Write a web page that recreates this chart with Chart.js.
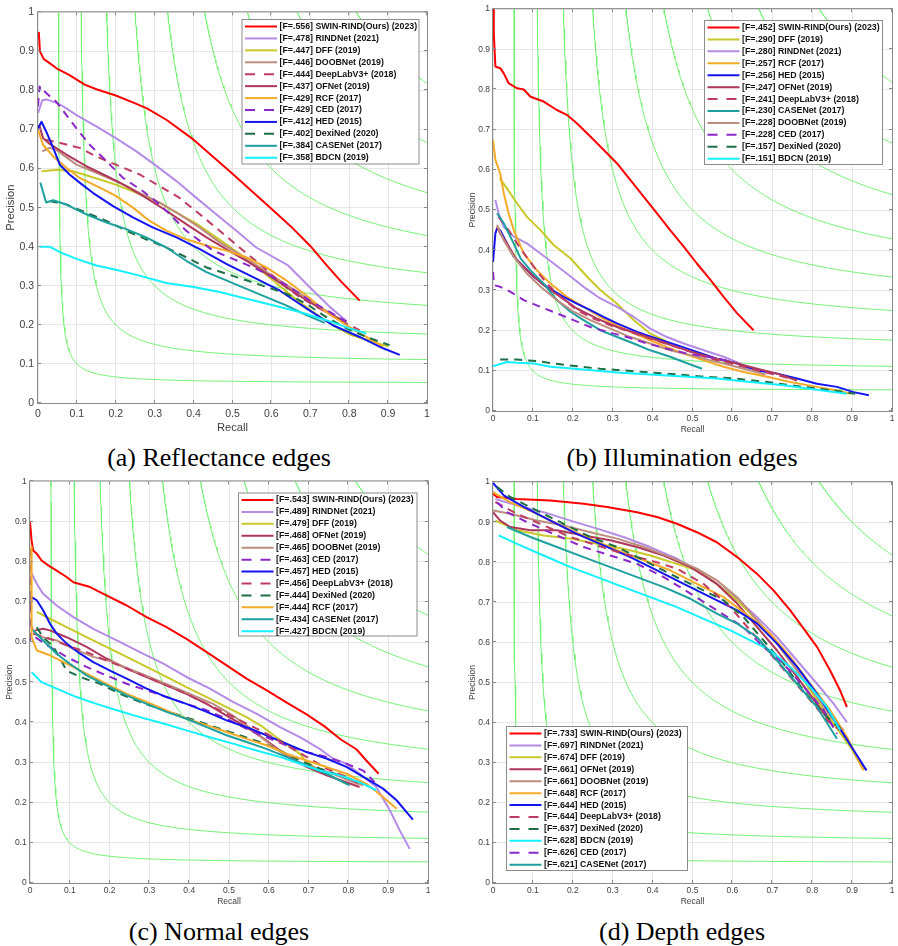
<!DOCTYPE html>
<html>
<head>
<meta charset="utf-8">
<script src="https://cdn.jsdelivr.net/npm/chart.js@4.4.1/dist/chart.umd.min.js"></script>
<style>
body { margin: 0; background: #fff; width: 898px; height: 946px; position: relative; overflow: hidden; }
.pane { position: absolute; }
.cap { position: absolute; width: 320px; text-align: center; white-space: nowrap;
       font-family: 'Liberation Serif', 'Times New Roman', serif; font-size: 26px; line-height: 30px; color: #000; }
</style>
</head>
<body>
<div class="pane" id="pa"><canvas id="ca"></canvas></div>
<div class="pane" id="pb"><canvas id="cb"></canvas></div>
<div class="pane" id="pc"><canvas id="cc"></canvas></div>
<div class="pane" id="pd"><canvas id="cd"></canvas></div>
<div class="cap" style="left:59px;top:443px">(a) Reflectance edges</div>
<div class="cap" style="left:522px;top:443px">(b) Illumination edges</div>
<div class="cap" style="left:59px;top:917px">(c) Normal edges</div>
<div class="cap" style="left:522px;top:917px">(d) Depth edges</div>
<script>
// iso-F contour levels (green background curves)
const isoF = [0.1, 0.2, 0.3, 0.4, 0.5, 0.6, 0.7, 0.8, 0.9];

// ---- (a) Reflectance : [recall, precision]
const refLegend = ['[F=.556] SWIN-RIND(Ours) (2023)', '[F=.478] RINDNet (2021)', '[F=.447] DFF (2019)', '[F=.446] DOOBNet (2019)',
  '[F=.444] DeepLabV3+ (2018)', '[F=.437] OFNet (2019)', '[F=.429] RCF (2017)', '[F=.429] CED (2017)',
  '[F=.412] HED (2015)', '[F=.402] DexiNed (2020)', '[F=.384] CASENet (2017)', '[F=.358] BDCN (2019)'];
const refKeys = ['swin', 'rind', 'dff', 'doob', 'deeplab', 'ofnet', 'rcf', 'ced', 'hed', 'dexi', 'casenet', 'bdcn'];
const refSwin = [[0.002,0.95],[0.005,0.9],[0.015,0.88],[0.03,0.87],[0.05,0.855],[0.08,0.84],[0.12,0.815],[0.15,0.803],[0.2,0.787],[0.25,0.767],[0.28,0.754],[0.33,0.725],[0.4,0.674],[0.45,0.63],[0.5,0.587],[0.55,0.542],[0.6,0.497],[0.65,0.452],[0.7,0.402],[0.74,0.355],[0.78,0.31],[0.827,0.262]];
const refRind = [[0.0,0.742],[0.011,0.775],[0.022,0.777],[0.051,0.767],[0.073,0.754],[0.099,0.737],[0.15,0.708],[0.2,0.678],[0.253,0.644],[0.3,0.61],[0.356,0.568],[0.407,0.525],[0.458,0.483],[0.51,0.441],[0.561,0.398],[0.643,0.352],[0.698,0.297],[0.75,0.246],[0.793,0.21]];
const refDff = [[0.009,0.593],[0.051,0.597],[0.09,0.593],[0.159,0.572],[0.2,0.559],[0.244,0.542],[0.304,0.517],[0.356,0.487],[0.407,0.459],[0.458,0.424],[0.501,0.394],[0.553,0.356],[0.604,0.314],[0.656,0.271],[0.707,0.233],[0.758,0.199],[0.8,0.176],[0.85,0.16],[0.9,0.145]];
const refDoob = [[0.011,0.644],[0.03,0.653],[0.047,0.648],[0.099,0.61],[0.159,0.585],[0.21,0.564],[0.261,0.538],[0.313,0.513],[0.364,0.483],[0.416,0.449],[0.467,0.411],[0.518,0.381],[0.57,0.347],[0.621,0.314],[0.673,0.28],[0.724,0.246],[0.767,0.22],[0.793,0.208]];
const refDeeplab = [[0.02,0.674],[0.06,0.665],[0.107,0.653],[0.15,0.631],[0.2,0.61],[0.261,0.585],[0.313,0.555],[0.364,0.525],[0.416,0.483],[0.467,0.441],[0.518,0.398],[0.57,0.356],[0.621,0.309],[0.673,0.271],[0.724,0.242],[0.776,0.212],[0.827,0.186]];
const refOfnet = [[0.003,0.712],[0.013,0.678],[0.03,0.663],[0.073,0.636],[0.124,0.606],[0.176,0.581],[0.227,0.555],[0.278,0.525],[0.33,0.492],[0.381,0.458],[0.433,0.424],[0.484,0.394],[0.536,0.364],[0.587,0.331],[0.638,0.297],[0.69,0.263],[0.741,0.233],[0.785,0.21]];
const refRcf = [[0.0,0.699],[0.013,0.661],[0.039,0.631],[0.073,0.602],[0.107,0.576],[0.159,0.551],[0.2,0.53],[0.244,0.5],[0.287,0.466],[0.33,0.441],[0.381,0.419],[0.433,0.403],[0.484,0.39],[0.536,0.373],[0.587,0.347],[0.638,0.314],[0.69,0.275],[0.741,0.233],[0.793,0.199],[0.844,0.169],[0.887,0.144]];
const refCed = [[0.0,0.76],[0.004,0.81],[0.01,0.795],[0.017,0.797],[0.047,0.771],[0.073,0.737],[0.099,0.703],[0.133,0.661],[0.176,0.619],[0.219,0.576],[0.27,0.542],[0.313,0.508],[0.347,0.475],[0.381,0.441],[0.416,0.415],[0.45,0.39],[0.501,0.369],[0.553,0.347],[0.604,0.322],[0.647,0.297],[0.698,0.263],[0.75,0.233],[0.793,0.208]];
const refHed = [[0.0,0.703],[0.009,0.72],[0.021,0.695],[0.039,0.653],[0.056,0.61],[0.081,0.585],[0.107,0.564],[0.141,0.538],[0.193,0.504],[0.244,0.475],[0.296,0.449],[0.356,0.424],[0.416,0.394],[0.484,0.356],[0.553,0.322],[0.621,0.288],[0.69,0.242],[0.758,0.199],[0.827,0.169],[0.887,0.14],[0.93,0.123]];
const refDexi = [[0.03,0.517],[0.073,0.508],[0.124,0.487],[0.176,0.466],[0.227,0.441],[0.278,0.419],[0.33,0.398],[0.381,0.373],[0.433,0.347],[0.484,0.331],[0.536,0.314],[0.587,0.297],[0.638,0.28],[0.69,0.254],[0.741,0.22],[0.793,0.191],[0.844,0.169],[0.904,0.148]];
const refCase = [[0.006,0.564],[0.021,0.513],[0.039,0.519],[0.073,0.508],[0.124,0.483],[0.176,0.462],[0.227,0.445],[0.278,0.424],[0.33,0.398],[0.381,0.364],[0.433,0.335],[0.484,0.314],[0.536,0.292],[0.587,0.271],[0.638,0.25],[0.69,0.225],[0.737,0.205]];
const refBdcn = [[0.004,0.4],[0.03,0.4],[0.056,0.386],[0.099,0.369],[0.15,0.352],[0.2,0.341],[0.261,0.326],[0.33,0.307],[0.4,0.297],[0.467,0.284],[0.536,0.267],[0.604,0.25],[0.673,0.233],[0.741,0.212],[0.801,0.191],[0.844,0.178]];

// ---- (b) Illumination
const illLegend = ['[F=.452] SWIN-RIND(Ours) (2023)', '[F=.290] DFF (2019)', '[F=.280] RINDNet (2021)', '[F=.257] RCF (2017)',
  '[F=.256] HED (2015)', '[F=.247] OFNet (2019)', '[F=.241] DeepLabV3+ (2018)', '[F=.230] CASENet (2017)',
  '[F=.228] DOOBNet (2019)', '[F=.228] CED (2017)', '[F=.157] DexiNed (2020)', '[F=.151] BDCN (2019)'];
const illKeys = ['swin', 'dff', 'rind', 'rcf', 'hed', 'ofnet', 'deeplab', 'casenet', 'doob', 'ced', 'dexi', 'bdcn'];
const illSwin = [[0.0,0.998],[0.002,0.94],[0.006,0.857],[0.018,0.853],[0.027,0.84],[0.039,0.816],[0.06,0.803],[0.077,0.8],[0.094,0.782],[0.127,0.77],[0.16,0.749],[0.185,0.737],[0.21,0.716],[0.244,0.683],[0.277,0.65],[0.311,0.616],[0.344,0.575],[0.378,0.533],[0.411,0.492],[0.444,0.45],[0.478,0.409],[0.511,0.367],[0.545,0.326],[0.578,0.284],[0.612,0.243],[0.653,0.201]];
const illDff = [[0.017,0.579],[0.035,0.554],[0.06,0.517],[0.085,0.483],[0.119,0.45],[0.152,0.413],[0.194,0.38],[0.236,0.334],[0.269,0.301],[0.311,0.267],[0.353,0.226],[0.394,0.193],[0.444,0.168]];
const illRind = [[0.006,0.525],[0.014,0.492],[0.027,0.458],[0.052,0.434],[0.085,0.417],[0.119,0.392],[0.152,0.367],[0.185,0.342],[0.227,0.309],[0.269,0.28],[0.311,0.259],[0.353,0.234],[0.394,0.205],[0.436,0.184],[0.478,0.168],[0.528,0.151],[0.578,0.135],[0.62,0.118],[0.645,0.101]];
const illRcf = [[0.0,0.674],[0.006,0.625],[0.018,0.591],[0.027,0.542],[0.039,0.492],[0.052,0.45],[0.077,0.392],[0.11,0.35],[0.144,0.317],[0.185,0.284],[0.227,0.259],[0.269,0.234],[0.311,0.213],[0.353,0.193],[0.394,0.176],[0.436,0.159],[0.478,0.143],[0.528,0.126],[0.578,0.11],[0.628,0.097],[0.687,0.085],[0.745,0.072],[0.812,0.06],[0.862,0.051],[0.896,0.043]];
const illHed = [[0.0,0.371],[0.006,0.442],[0.01,0.454],[0.018,0.45],[0.035,0.417],[0.052,0.384],[0.077,0.359],[0.102,0.334],[0.135,0.309],[0.177,0.284],[0.21,0.267],[0.244,0.251],[0.277,0.234],[0.311,0.218],[0.361,0.197],[0.411,0.18],[0.461,0.164],[0.511,0.147],[0.561,0.13],[0.612,0.118],[0.662,0.101],[0.712,0.093],[0.762,0.081],[0.812,0.068],[0.862,0.06],[0.904,0.047],[0.942,0.039]];
const illOfnet = [[0.01,0.458],[0.018,0.442],[0.035,0.417],[0.06,0.375],[0.094,0.342],[0.127,0.313],[0.169,0.284],[0.21,0.255],[0.261,0.23],[0.311,0.209],[0.361,0.193],[0.411,0.176],[0.461,0.159],[0.511,0.143],[0.561,0.13],[0.612,0.118],[0.662,0.105],[0.712,0.093],[0.762,0.076]];
const illDeeplab = [[0.014,0.483],[0.039,0.45],[0.069,0.404],[0.102,0.359],[0.135,0.317],[0.169,0.284],[0.21,0.251],[0.252,0.23],[0.294,0.213],[0.344,0.197],[0.394,0.18],[0.444,0.164],[0.495,0.147],[0.545,0.13],[0.595,0.118],[0.645,0.105],[0.695,0.093],[0.745,0.081]];
const illCase = [[0.01,0.492],[0.027,0.467],[0.048,0.425],[0.069,0.38],[0.094,0.35],[0.127,0.317],[0.16,0.276],[0.194,0.247],[0.227,0.226],[0.269,0.201],[0.311,0.184],[0.353,0.168],[0.394,0.151],[0.444,0.135],[0.478,0.122],[0.524,0.105]];
const illDoob = [[0.01,0.463],[0.027,0.425],[0.052,0.384],[0.085,0.342],[0.119,0.309],[0.16,0.276],[0.202,0.247],[0.244,0.226],[0.294,0.205],[0.344,0.184],[0.394,0.168],[0.444,0.151],[0.495,0.139],[0.545,0.126],[0.595,0.114],[0.645,0.101],[0.683,0.091]];
const illCed = [[0.0,0.346],[0.003,0.313],[0.018,0.309],[0.043,0.297],[0.077,0.276],[0.119,0.259],[0.16,0.243],[0.202,0.226],[0.244,0.209],[0.286,0.197],[0.336,0.184],[0.386,0.168],[0.436,0.155],[0.486,0.143],[0.536,0.135],[0.586,0.126]];
const illDexi = [[0.018,0.128],[0.06,0.128],[0.11,0.124],[0.185,0.114],[0.269,0.105],[0.353,0.099],[0.436,0.093],[0.52,0.086],[0.603,0.081],[0.687,0.072],[0.77,0.061],[0.854,0.051],[0.908,0.043]];
const illBdcn = [[0.0,0.111],[0.035,0.122],[0.06,0.12],[0.102,0.118],[0.144,0.11],[0.227,0.103],[0.311,0.096],[0.394,0.091],[0.478,0.086],[0.561,0.081],[0.645,0.072],[0.728,0.064],[0.812,0.053],[0.887,0.043]];

// ---- (c) Normal
const norLegend = ['[F=.543] SWIN-RIND(Ours) (2023)', '[F=.489] RINDNet (2021)', '[F=.479] DFF (2019)', '[F=.468] OFNet (2019)',
  '[F=.465] DOOBNet (2019)', '[F=.463] CED (2017)', '[F=.457] HED (2015)', '[F=.456] DeepLabV3+ (2018)',
  '[F=.444] DexiNed (2020)', '[F=.444] RCF (2017)', '[F=.434] CASENet (2017)', '[F=.427] BDCN (2019)'];
const norKeys = ['swin', 'rind', 'dff', 'ofnet', 'doob', 'ced', 'hed', 'deeplab', 'dexi', 'rcf', 'casenet', 'bdcn'];
const norSwin = [[0.0,0.899],[0.004,0.853],[0.008,0.828],[0.017,0.82],[0.029,0.803],[0.046,0.791],[0.067,0.778],[0.092,0.762],[0.109,0.749],[0.151,0.737],[0.192,0.716],[0.243,0.691],[0.293,0.662],[0.343,0.637],[0.393,0.608],[0.444,0.575],[0.494,0.542],[0.544,0.509],[0.594,0.48],[0.644,0.45],[0.695,0.42],[0.74,0.39],[0.78,0.358],[0.82,0.333],[0.845,0.305],[0.876,0.272]];
const norRind = [[0.0,0.778],[0.017,0.745],[0.033,0.72],[0.067,0.691],[0.109,0.662],[0.159,0.633],[0.218,0.604],[0.276,0.575],[0.335,0.546],[0.393,0.513],[0.452,0.484],[0.51,0.451],[0.569,0.422],[0.628,0.388],[0.678,0.363],[0.728,0.334],[0.761,0.31],[0.795,0.297],[0.828,0.272],[0.87,0.239],[0.904,0.181],[0.929,0.131],[0.954,0.085]];
const norDff = [[0.017,0.675],[0.05,0.658],[0.092,0.637],[0.142,0.612],[0.192,0.588],[0.243,0.563],[0.293,0.538],[0.343,0.513],[0.393,0.488],[0.444,0.463],[0.494,0.438],[0.544,0.413],[0.586,0.388],[0.619,0.363],[0.653,0.339],[0.678,0.322],[0.695,0.301],[0.72,0.285],[0.76,0.265],[0.795,0.247]];
const norOfnet = [[0.013,0.629],[0.033,0.633],[0.05,0.629],[0.092,0.612],[0.142,0.588],[0.192,0.559],[0.243,0.534],[0.293,0.513],[0.343,0.492],[0.393,0.471],[0.444,0.446],[0.494,0.417],[0.544,0.388],[0.594,0.355],[0.644,0.318],[0.695,0.289],[0.745,0.268],[0.795,0.251],[0.828,0.239]];
const norDoob = [[0.0,0.646],[0.013,0.621],[0.033,0.612],[0.067,0.604],[0.109,0.583],[0.159,0.563],[0.209,0.55],[0.259,0.529],[0.31,0.509],[0.36,0.488],[0.41,0.467],[0.46,0.446],[0.51,0.417],[0.561,0.38],[0.611,0.339],[0.661,0.305],[0.711,0.289],[0.761,0.272],[0.812,0.251],[0.837,0.243]];
const norCed = [[0.0,0.832],[0.0,0.604],[0.013,0.612],[0.05,0.588],[0.092,0.563],[0.142,0.538],[0.192,0.517],[0.243,0.496],[0.293,0.48],[0.343,0.463],[0.393,0.446],[0.444,0.43],[0.494,0.409],[0.544,0.384],[0.594,0.363],[0.644,0.343],[0.695,0.326],[0.745,0.314],[0.795,0.297],[0.837,0.28],[0.866,0.251]];
const norHed = [[0.0,0.679],[0.004,0.712],[0.017,0.704],[0.033,0.679],[0.05,0.646],[0.067,0.621],[0.092,0.596],[0.126,0.571],[0.159,0.55],[0.201,0.529],[0.243,0.509],[0.293,0.484],[0.343,0.463],[0.393,0.446],[0.444,0.426],[0.494,0.405],[0.544,0.388],[0.594,0.368],[0.644,0.347],[0.695,0.326],[0.745,0.31],[0.795,0.289],[0.845,0.26],[0.887,0.235],[0.921,0.206],[0.962,0.158]];
const norDeeplab = [[0.008,0.621],[0.05,0.608],[0.092,0.592],[0.142,0.575],[0.192,0.554],[0.243,0.534],[0.293,0.513],[0.343,0.492],[0.393,0.471],[0.444,0.446],[0.494,0.422],[0.544,0.397],[0.594,0.372],[0.644,0.343],[0.695,0.314],[0.745,0.285],[0.795,0.264],[0.837,0.243]];
const norDexi = [[0.017,0.637],[0.033,0.612],[0.059,0.588],[0.092,0.529],[0.126,0.513],[0.176,0.496],[0.226,0.471],[0.276,0.451],[0.326,0.434],[0.377,0.417],[0.427,0.401],[0.477,0.384],[0.527,0.368],[0.577,0.351],[0.628,0.33],[0.678,0.305],[0.728,0.285],[0.778,0.268],[0.828,0.251],[0.854,0.243]];
const norRcf = [[0.003,0.837],[0.004,0.612],[0.017,0.579],[0.05,0.567],[0.092,0.546],[0.142,0.521],[0.192,0.496],[0.243,0.471],[0.293,0.451],[0.343,0.43],[0.393,0.409],[0.444,0.393],[0.494,0.376],[0.544,0.359],[0.594,0.343],[0.644,0.322],[0.695,0.305],[0.745,0.289],[0.795,0.272],[0.845,0.247],[0.887,0.214],[0.921,0.185]];
const norCase = [[0.008,0.629],[0.033,0.604],[0.067,0.571],[0.1,0.546],[0.142,0.517],[0.192,0.492],[0.243,0.467],[0.293,0.446],[0.343,0.426],[0.393,0.409],[0.444,0.388],[0.494,0.368],[0.544,0.351],[0.594,0.334],[0.644,0.314],[0.695,0.293],[0.745,0.272],[0.803,0.243]];
const norBdcn = [[0.004,0.525],[0.029,0.5],[0.067,0.484],[0.117,0.463],[0.167,0.446],[0.218,0.43],[0.276,0.413],[0.335,0.397],[0.393,0.38],[0.452,0.363],[0.51,0.347],[0.569,0.33],[0.628,0.314],[0.678,0.297],[0.728,0.28],[0.778,0.268],[0.828,0.251],[0.87,0.231]];

// ---- (d) Depth
const depLegend = ['[F=.733] SWIN-RIND(Ours) (2023)', '[F=.697] RINDNet (2021)', '[F=.674] DFF (2019)', '[F=.661] OFNet (2019)',
  '[F=.661] DOOBNet (2019)', '[F=.648] RCF (2017)', '[F=.644] HED (2015)', '[F=.644] DeepLabV3+ (2018)',
  '[F=.637] DexiNed (2020)', '[F=.628] BDCN (2019)', '[F=.626] CED (2017)', '[F=.621] CASENet (2017)'];
const depKeys = ['swin', 'rind', 'dff', 'ofnet', 'doob', 'rcf', 'hed', 'deeplab', 'dexi', 'bdcn', 'ced', 'casenet'];
const depSwin = [[0.0,0.971],[0.01,0.963],[0.06,0.958],[0.144,0.954],[0.227,0.946],[0.286,0.938],[0.361,0.925],[0.411,0.913],[0.461,0.896],[0.511,0.875],[0.561,0.85],[0.612,0.813],[0.662,0.771],[0.703,0.73],[0.745,0.68],[0.779,0.634],[0.812,0.589],[0.845,0.53],[0.87,0.48],[0.887,0.439]];
const depRind = [[0.006,0.958],[0.06,0.942],[0.127,0.925],[0.194,0.904],[0.261,0.884],[0.327,0.863],[0.394,0.838],[0.461,0.809],[0.511,0.78],[0.561,0.746],[0.612,0.709],[0.662,0.663],[0.712,0.613],[0.762,0.555],[0.812,0.497],[0.854,0.447],[0.887,0.401]];
const depDff = [[0.006,0.904],[0.06,0.88],[0.127,0.867],[0.194,0.859],[0.261,0.846],[0.327,0.834],[0.394,0.817],[0.461,0.796],[0.511,0.78],[0.561,0.746],[0.612,0.705],[0.662,0.655],[0.712,0.597],[0.762,0.53],[0.812,0.456],[0.854,0.397],[0.896,0.339],[0.929,0.281]];
const depOfnet = [[0.0,0.925],[0.018,0.904],[0.043,0.888],[0.094,0.88],[0.16,0.88],[0.227,0.867],[0.294,0.855],[0.361,0.838],[0.428,0.817],[0.495,0.788],[0.561,0.746],[0.612,0.697],[0.662,0.638],[0.712,0.58],[0.762,0.514],[0.812,0.447],[0.854,0.389]];
const depDoob = [[0.0,0.929],[0.043,0.921],[0.11,0.904],[0.177,0.892],[0.244,0.875],[0.311,0.859],[0.378,0.838],[0.444,0.813],[0.511,0.784],[0.561,0.755],[0.612,0.713],[0.662,0.655],[0.712,0.597],[0.762,0.53],[0.812,0.464],[0.854,0.406],[0.879,0.381]];
const depRcf = [[0.0,0.975],[0.043,0.95],[0.11,0.921],[0.177,0.888],[0.244,0.859],[0.311,0.83],[0.378,0.805],[0.444,0.78],[0.511,0.746],[0.578,0.713],[0.645,0.663],[0.695,0.622],[0.745,0.564],[0.795,0.497],[0.845,0.431],[0.887,0.364],[0.929,0.281]];
const depHed = [[0.0,0.998],[0.027,0.967],[0.077,0.938],[0.144,0.904],[0.21,0.871],[0.277,0.842],[0.344,0.813],[0.411,0.78],[0.478,0.746],[0.545,0.713],[0.612,0.68],[0.662,0.647],[0.712,0.597],[0.762,0.539],[0.812,0.472],[0.862,0.397],[0.904,0.331],[0.936,0.281]];
const depDeeplab = [[0.006,0.95],[0.06,0.921],[0.127,0.892],[0.194,0.863],[0.261,0.842],[0.327,0.821],[0.394,0.805],[0.461,0.784],[0.528,0.746],[0.595,0.688],[0.645,0.63],[0.695,0.572],[0.745,0.514],[0.795,0.456],[0.837,0.406],[0.87,0.381]];
const depDexi = [[0.01,0.988],[0.043,0.963],[0.11,0.929],[0.177,0.896],[0.244,0.863],[0.311,0.838],[0.378,0.805],[0.444,0.771],[0.511,0.738],[0.578,0.705],[0.628,0.663],[0.678,0.605],[0.728,0.547],[0.779,0.48],[0.829,0.422],[0.875,0.381]];
const depBdcn = [[0.014,0.867],[0.06,0.846],[0.127,0.817],[0.194,0.788],[0.261,0.763],[0.327,0.738],[0.394,0.713],[0.461,0.688],[0.528,0.659],[0.595,0.63],[0.645,0.605],[0.695,0.58],[0.745,0.539],[0.795,0.489],[0.837,0.439],[0.87,0.381]];
const depCed = [[0.01,0.95],[0.035,0.925],[0.094,0.896],[0.16,0.867],[0.227,0.838],[0.294,0.817],[0.361,0.796],[0.428,0.763],[0.495,0.722],[0.561,0.68],[0.628,0.638],[0.678,0.589],[0.728,0.547],[0.779,0.489],[0.829,0.431],[0.862,0.372]];
const depCase = [[0.035,0.888],[0.094,0.863],[0.16,0.838],[0.227,0.813],[0.294,0.788],[0.361,0.763],[0.428,0.738],[0.495,0.709],[0.561,0.672],[0.612,0.647],[0.662,0.613],[0.712,0.555],[0.762,0.497],[0.812,0.439],[0.862,0.36]];

// line colours per method
const styles = {
  swin: { color: '#ff0000' }, rind: { color: '#b48ce6' }, dff: { color: '#c8c828' }, doob: { color: '#be8c7d' },
  deeplab: { color: '#be3c64', dash: true }, ofnet: { color: '#af375a' }, rcf: { color: '#f5aa28' },
  ced: { color: '#8c28c8', dash: true }, hed: { color: '#1414f0' }, dexi: { color: '#1e6e46', dash: true },
  casenet: { color: '#1ea0a0' }, bdcn: { color: '#14f0ff' }
};

const FONT = "'Liberation Sans', Arial, Helvetica, sans-serif";

// frame, inward ticks and the boxed legend (matlab look)
const matlabBox = {
  id: 'matlabBox',
  afterDatasetsDraw(chart, args, opts) {
    const ctx = chart.ctx;
    const a = chart.chartArea;
    const sx = chart.scales.x, sy = chart.scales.y;
    ctx.save();
    ctx.strokeStyle = '#8a8a8a';
    ctx.lineWidth = 1;
    ctx.strokeRect(a.left - 0.5, a.top - 0.5, a.right - a.left + 1, a.bottom - a.top + 1);
    ctx.beginPath();
    sx.ticks.forEach((t, i) => {
      const px = Math.round(sx.getPixelForTick(i)) - 0.5;
      ctx.moveTo(px, a.bottom); ctx.lineTo(px, a.bottom - 3);
      ctx.moveTo(px, a.top); ctx.lineTo(px, a.top + 3);
    });
    sy.ticks.forEach((t, i) => {
      const py = Math.round(sy.getPixelForTick(i)) - 0.5;
      ctx.moveTo(a.left, py); ctx.lineTo(a.left + 3, py);
      ctx.moveTo(a.right, py); ctx.lineTo(a.right - 3, py);
    });
    ctx.stroke();

    // legend
    const { x, y, w, h } = opts;
    ctx.fillStyle = '#fff';
    ctx.fillRect(x, y, w, h);
    ctx.strokeStyle = '#8c8c8c';
    ctx.strokeRect(x + 0.5, y + 0.5, w, h);
    ctx.font = 'bold 8.8px ' + FONT;
    ctx.textBaseline = 'middle';
    let row = 0;
    chart.data.datasets.forEach(ds => {
      if (ds.iso) return;
      const cy = y + 7.5 + row * 11.93;
      ctx.strokeStyle = ds.borderColor;
      ctx.lineWidth = 2;
      ctx.setLineDash(ds.borderDash.length ? [10, 9] : []);
      ctx.beginPath();
      ctx.moveTo(x + 3.5, cy); ctx.lineTo(x + 35.5, cy);
      ctx.stroke();
      ctx.setLineDash([]);
      ctx.fillStyle = '#111';
      ctx.fillText(ds.label, x + 38, cy);
      row++;
    });
    ctx.restore();
  }
};

function isoCurve(f) {
  // points along F = 2PR/(P+R), from P=1 down to R=1
  const r0 = f / (2 - f);
  const pts = [];
  for (let i = 0; i <= 160; i++) {
    const t = i / 160;
    const r = r0 + (1 - r0) * t * t;
    pts.push({ x: r, y: f * r / (2 * r - f) });
  }
  return pts;
}

function panel(cfg) {
  const W = cfg.yw + (cfg.R - cfg.L) + 8;
  const H = 8 + (cfg.B - cfg.T) + cfg.xh;
  const box = document.getElementById(cfg.pane);
  box.style.left = (cfg.L - cfg.yw) + 'px';
  box.style.top = (cfg.T - 8) + 'px';
  const cv = document.getElementById(cfg.canvas);
  cv.width = W; cv.height = H;

  const datasets = cfg.curves.map((c, i) => {
    const st = styles[cfg.keys[i]];
    return {
      label: cfg.legend[i],
      data: c.map(p => ({ x: p[0], y: p[1] })),
      borderColor: st.color,
      borderWidth: 2,
      borderDash: st.dash ? [8, 6] : [],
      borderJoinStyle: 'round',
      pointRadius: 0,
      tension: 0,
      fill: false,
      order: -i
    };
  });
  isoF.forEach(f => datasets.push({
    iso: true, label: 'F' + f, data: isoCurve(f), borderColor: '#72f272', borderWidth: 1,
    borderDash: [], pointRadius: 0, tension: 0, fill: false, order: 100
  }));

  const tickFont = { family: FONT, size: cfg.tf };
  const titleFont = { family: FONT, size: cfg.lf };
  const fmt = v => String(+v.toFixed(1));

  new Chart(cv, {
    type: 'line',
    data: { datasets },
    options: {
      responsive: false,
      animation: false,
      devicePixelRatio: 1,
      layout: { padding: { left: 0, top: 8, right: 8, bottom: 0 } },
      plugins: {
        legend: { display: false },
        tooltip: { enabled: false },
        matlabBox: { x: cfg.lg[0] - (cfg.L - cfg.yw), y: cfg.lg[1] - (cfg.T - 8), w: cfg.lg[2], h: cfg.lg[3] }
      },
      scales: {
        x: {
          type: 'linear', min: 0, max: 1,
          ticks: { stepSize: 0.1, autoSkip: false, maxRotation: 0, padding: cfg.xtp, color: '#404040', font: tickFont, callback: fmt },
          grid: { color: '#e6e6e6', drawTicks: false },
          border: { display: false },
          title: { display: true, text: 'Recall', color: '#404040', font: titleFont, padding: { top: 0, bottom: cfg.xtt } },
          afterFit: s => { s.height = cfg.xh; }
        },
        y: {
          type: 'linear', min: 0, max: 1,
          ticks: { stepSize: 0.1, autoSkip: false, padding: cfg.ytp, color: '#404040', font: tickFont, callback: fmt },
          grid: { color: '#e6e6e6', drawTicks: false },
          border: { display: false },
          title: { display: true, text: 'Precision', color: '#404040', font: titleFont, padding: { top: cfg.ytt, bottom: 0 } },
          afterFit: s => { s.width = cfg.yw; }
        }
      }
    },
    plugins: [matlabBox]
  });
}

panel({ pane: 'pa', canvas: 'ca', L: 38, T: 10, R: 427, B: 403, yw: 38, xh: 34, tf: 10.5, lf: 11.2, ytp: 4, xtp: 4.7, ytt: 4, xtt: 2,
  lg: [241.5, 19, 177, 144.5], legend: refLegend, keys: refKeys,
  curves: [refSwin, refRind, refDff, refDoob, refDeeplab, refOfnet, refRcf, refCed, refHed, refDexi, refCase, refBdcn] });

panel({ pane: 'pb', canvas: 'cb', L: 493, T: 9, R: 892, B: 411, yw: 30, xh: 28, tf: 8.5, lf: 8.5, ytp: 3, xtp: 2.5, ytt: 4.2, xtt: 3.9,
  lg: [704, 20, 178, 144], legend: illLegend, keys: illKeys,
  curves: [illSwin, illDff, illRind, illRcf, illHed, illOfnet, illDeeplab, illCase, illDoob, illCed, illDexi, illBdcn] });

panel({ pane: 'pc', canvas: 'cc', L: 30, T: 481, R: 428, B: 883, yw: 30, xh: 28, tf: 8.5, lf: 8.5, ytp: 3.3, xtp: 2.2, ytt: 4.2, xtt: 4.2,
  lg: [238, 492.5, 178.5, 143], legend: norLegend, keys: norKeys,
  curves: [norSwin, norRind, norDff, norOfnet, norDoob, norCed, norHed, norDeeplab, norDexi, norRcf, norCase, norBdcn] });

panel({ pane: 'pd', canvas: 'cd', L: 493, T: 482, R: 892, B: 883, yw: 30, xh: 28, tf: 8.5, lf: 8.5, ytp: 3, xtp: 2.5, ytt: 4.2, xtt: 4.2,
  lg: [506, 726, 181, 144], legend: depLegend, keys: depKeys,
  curves: [depSwin, depRind, depDff, depOfnet, depDoob, depRcf, depHed, depDeeplab, depDexi, depBdcn, depCed, depCase] });
</script>
</body>
</html>
